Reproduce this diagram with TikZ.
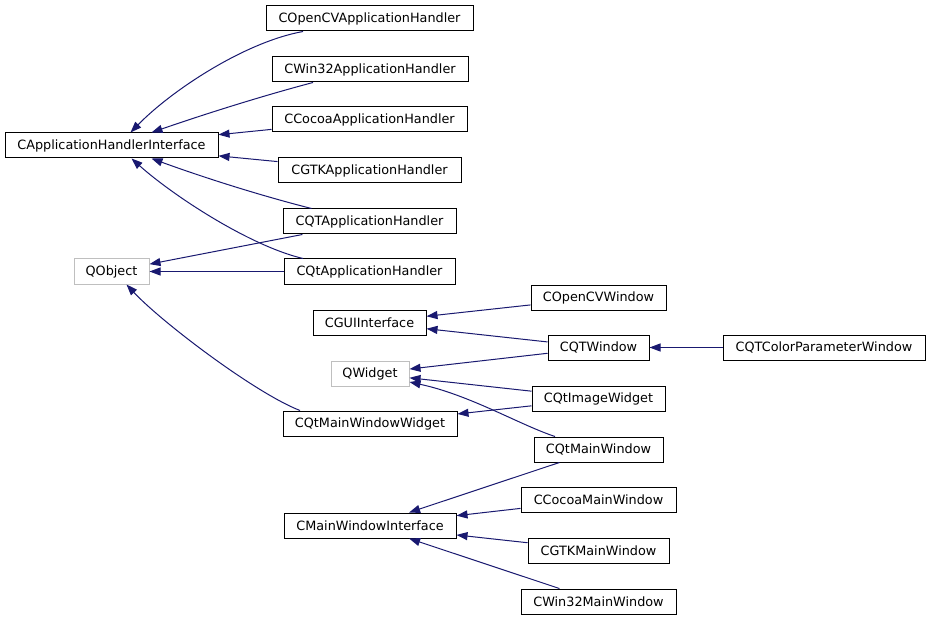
\documentclass[tikz,border=0pt]{standalone}
\usepackage{fontspec}
\setmainfont{DejaVu Sans}
\usetikzlibrary{arrows.meta}
\definecolor{edgeblue}{RGB}{25,25,112}
\definecolor{extgray}{RGB}{191,191,191}
\begin{document}
\begin{tikzpicture}[x=1pt,y=-1pt,
  cls/.style={draw=black,line width=1pt,fill=white,minimum height=25pt,inner sep=0pt,
    font=\fontsize{12.8}{14}\selectfont},
  ext/.style={cls,draw=extgray},
  inh/.style={draw=edgeblue,line width=1pt,-{Triangle[length=11pt,width=8pt]},fill=none},
]
\useasboundingbox (0,0) rectangle (931,620);
\fill[white] (0,0) rectangle (931,620);
% nodes
\node[cls,minimum width=213pt] (cahi) at (111.5,145.5) {CApplicationHandlerInterface};
\node[cls,minimum width=207pt] (copencv) at (369.5,18.5) {COpenCVApplicationHandler};
\node[cls,minimum width=196pt] (cwin32) at (370,69.5) {CWin32ApplicationHandler};
\node[cls,minimum width=195pt] (ccocoa) at (369.5,119.5) {CCocoaApplicationHandler};
\node[cls,minimum width=183pt] (cgtk) at (369.5,170.5) {CGTKApplicationHandler};
\node[cls,minimum width=173pt] (cqtah) at (369.5,221.5) {CQTApplicationHandler};
\node[cls,minimum width=171pt] (cqtah2) at (369.5,271.5) {CQtApplicationHandler};
\node[ext,minimum width=75pt] (qobject) at (111.5,271.5) {QObject};
\node[cls,minimum width=113pt] (cgui) at (369.5,322.5) {CGUIInterface};
\node[ext,minimum width=78pt] (qwidget) at (370,373.5) {QWidget};
\node[cls,minimum width=174pt] (cqtmww) at (370,423.5) {CQtMainWindowWidget};
\node[cls,minimum width=172pt] (cmwi) at (370,525.5) {CMainWindowInterface};
\node[cls,minimum width=135pt] (copencvw) at (598.5,297.5) {COpenCVWindow};
\node[cls,minimum width=101pt] (cqtw) at (598.5,347.5) {CQTWindow};
\node[cls,minimum width=133pt] (cqtimg) at (598.5,398.5) {CQtImageWidget};
\node[cls,minimum width=129pt] (cqtmw) at (598.5,449.5) {CQtMainWindow};
\node[cls,minimum width=155pt] (ccocoamw) at (598.5,499.5) {CCocoaMainWindow};
\node[cls,minimum width=141pt] (cgtkmw) at (598.5,550.5) {CGTKMainWindow};
\node[cls,minimum width=155pt] (cwin32mw) at (598.5,601.5) {CWin32MainWindow};
\node[cls,minimum width=202pt] (cqtcpw) at (824,347.5) {CQTColorParameterWindow};
% application handler edges
\draw[inh] ([xshift=-66.5pt]copencv.south) .. controls (245,42) and (172,90) .. ([xshift=19pt]cahi.north);
\draw[inh] ([xshift=-57pt]cwin32.south) .. controls (262,96) and (205,114) .. ([xshift=40pt]cahi.north);
\draw[inh] (ccocoa) -- (cahi);
\draw[inh] (cgtk) -- (cahi);
\draw[inh] ([xshift=-58pt]cqtah.north) .. controls (262,196) and (205,178) .. ([xshift=40pt]cahi.south);
\draw[inh] ([xshift=-66.5pt]cqtah2.north) .. controls (250,246) and (173.5,196) .. ([xshift=20pt]cahi.south);
\draw[inh] (cqtah) -- (qobject);
\draw[inh] (cqtah2) -- (qobject);
\draw[inh] ([xshift=-70pt]cqtmww.north) .. controls (255,393) and (161.5,322) .. ([xshift=15pt]qobject.south);
% GUI edges
\draw[inh] (copencvw) -- (cgui);
\draw[inh] (cqtw) -- (cgui);
\draw[inh] (cqtw) -- (qwidget);
\draw[inh] (cqtimg) -- (qwidget);
\draw[inh] ([xshift=-43.5pt]cqtmw.north) .. controls (520,425) and (470,395) .. ([yshift=-8.5pt]qwidget.east);
\draw[inh] (cqtimg) -- (cqtmww);
\draw[inh] (cqtcpw) -- (cqtw);
% main window edges
\draw[inh] (cqtmw) -- (cmwi);
\draw[inh] (ccocoamw) -- (cmwi);
\draw[inh] (cgtkmw) -- (cmwi);
\draw[inh] (cwin32mw) -- (cmwi);
\end{tikzpicture}
\end{document}
